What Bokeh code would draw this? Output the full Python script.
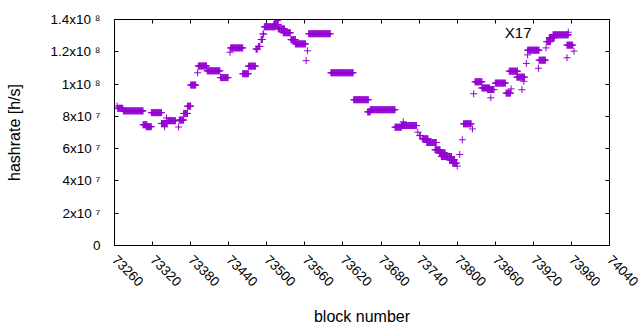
import math
import numpy as np
from bokeh.plotting import figure
from bokeh.models import FixedTicker, LinearAxis, Label
from bokeh.embed import file_html
from bokeh.resources import INLINE

# Hashrate periods: first block, last block, hashrate (in 1e6 h/s)
seg_start = [73264, 73265, 73274, 73305, 73310, 73318, 73334, 73339, 73342, 73344,
             73361, 73362, 73369, 73375, 73380, 73391, 73392, 73406, 73427, 73442,
             73443, 73462, 73471, 73483, 73487, 73491, 73494, 73496, 73511, 73517,
             73518, 73526, 73538, 73545, 73562, 73564, 73566, 73601, 73637, 73659,
             73663, 73702, 73712, 73715, 73738, 73741, 73745, 73752, 73765, 73772,
             73775, 73788, 73793, 73800, 73804, 73808, 73810, 73824, 73826, 73828,
             73839, 73848, 73853, 73860, 73877, 73885, 73882, 73894, 73902, 73905,
             73909, 73911, 73911, 73928, 73929, 73940, 73941, 73945, 73951, 73975,
             73973, 73973, 73984]
seg_end = [73264, 73273, 73305, 73311, 73318, 73334, 73343, 73339, 73342, 73356,
           73361, 73369, 73375, 73380, 73388, 73391, 73405, 73426, 73439, 73442,
           73462, 73471, 73482, 73485, 73489, 73493, 73495, 73513, 73518, 73517,
           73528, 73537, 73545, 73561, 73562, 73564, 73600, 73636, 73660, 73663,
           73702, 73712, 73736, 73715, 73738, 73742, 73754, 73767, 73773, 73781,
           73791, 73796, 73799, 73800, 73804, 73808, 73822, 73824, 73826, 73839,
           73851, 73858, 73853, 73876, 73884, 73885, 73895, 73906, 73902, 73905,
           73909, 73911, 73929, 73928, 73939, 73940, 73947, 73953, 73975, 73975,
           73973, 73982, 73984]
seg_rate = [86.4, 85.0, 83.4, 74.8, 73.6, 82.3, 75.6, 73.5, 79.0, 77.3,
            73.4, 77.7, 81.8, 86.3, 99.4, 107.0, 111.2, 108.2, 104.0, 119.7,
            122.4, 106.4, 111.1, 121.7, 123.3, 127.6, 131.0, 135.5, 136.9, 139.4,
            134.2, 131.8, 127.5, 124.9, 114.5, 120.6, 131.2, 107.0, 90.3, 82.8,
            84.1, 73.3, 74.3, 76.6, 70.2, 68.1, 66.1, 63.8, 59.3, 57.3,
            55.1, 53.0, 51.0, 49.2, 56.4, 65.5, 75.4, 72.2, 94.0, 101.4,
            97.6, 96.6, 91.5, 100.6, 94.4, 97.0, 108.0, 104.3, 96.5, 101.7,
            112.8, 118.1, 121.0, 109.8, 114.8, 122.4, 126.3, 128.7, 130.5, 132.1,
            116.3, 124.1, 120.4]

x_ticks = [73260, 73320, 73380, 73440, 73500, 73560, 73620, 73680, 73740,
           73800, 73860, 73920, 73980, 74040]
x_tick_labels = ["73260", "73320", "73380", "73440", "73500", "73560", "73620",
                 "73680", "73740", "73800", "73860", "73920", "73980", "74040"]
y_ticks = [0, 20000000, 40000000, 60000000, 80000000, 100000000, 120000000, 140000000]
y_tick_labels = ["0", "2x10 \u2077", "4x10 \u2077", "6x10 \u2077", "8x10 \u2077",
                 "1x10 \u2078", "1.2x10 \u2078", "1.4x10 \u2078"]
series_name = "X17"

# one point per block within each period
blocks = np.concatenate([np.arange(s, e + 1) for s, e in zip(seg_start, seg_end)])
rates = np.concatenate([np.full(e - s + 1, r * 1e6) for s, e, r in zip(seg_start, seg_end, seg_rate)])

FONT = "Liberation Sans"
COLOR = "#9400d3"

p = figure(width=640, height=330, x_range=(73260, 74040), y_range=(0, 1.4e8),
           output_backend="svg", toolbar_location=None,
           min_border_left=114, min_border_right=31, min_border_top=19, min_border_bottom=85)
p.grid.visible = False
p.outline_line_color = "black"
p.outline_line_width = 1
p.outline_line_alpha = 1
p.background_fill_color = "white"
p.border_fill_color = "white"

p.scatter(blocks, rates, marker="cross", size=7, line_color=COLOR, line_width=1)

xa = p.xaxis[0]
xa.ticker = FixedTicker(ticks=x_ticks)
xa.major_label_overrides = {t: l for t, l in zip(x_ticks, x_tick_labels)}
xa.major_label_orientation = -math.pi / 4
xa.axis_label = "block number"
ya = p.yaxis[0]
ya.ticker = FixedTicker(ticks=y_ticks)
ya.major_label_overrides = {t: l for t, l in zip(y_ticks, y_tick_labels)}
ya.axis_label = "hashrate [h/s]"

for ax in (xa, ya):
    ax.major_tick_in = 4
    ax.major_tick_out = 0
    ax.minor_tick_line_color = None
    ax.axis_line_color = "black"
    ax.major_tick_line_color = "black"
    ax.major_label_text_font = FONT
    ax.major_label_text_font_size = "13.5px"
    ax.major_label_text_color = "black"
    ax.axis_label_text_font = FONT
    ax.axis_label_text_font_size = "16px"
    ax.axis_label_text_font_style = "normal"
    ax.axis_label_text_color = "black"

ya.major_label_standoff = 14
ya.axis_label_standoff = 25
xa.major_label_standoff = 12
xa.axis_label_standoff = 15

# mirrored ticks on top and right
top = LinearAxis(ticker=FixedTicker(ticks=x_ticks))
right = LinearAxis(ticker=FixedTicker(ticks=y_ticks))
top.major_label_overrides = {t: "" for t in x_ticks}
right.major_label_overrides = {t: "" for t in y_ticks}
for ax in (top, right):
    ax.major_tick_in = 4
    ax.major_tick_out = 0
    ax.minor_tick_line_color = None
    ax.axis_line_color = None
    ax.major_tick_line_color = "black"
    ax.major_label_standoff = 0
p.add_layout(top, "above")
p.add_layout(right, "right")

# series title (frame-relative screen position)
p.add_layout(Label(x=417, y=213, x_units="screen", y_units="screen", text=series_name,
                   text_align="right", text_baseline="middle", text_font=FONT,
                   text_font_size="15px", text_color="black"))

open("out.html", "w").write(file_html(p, INLINE))
